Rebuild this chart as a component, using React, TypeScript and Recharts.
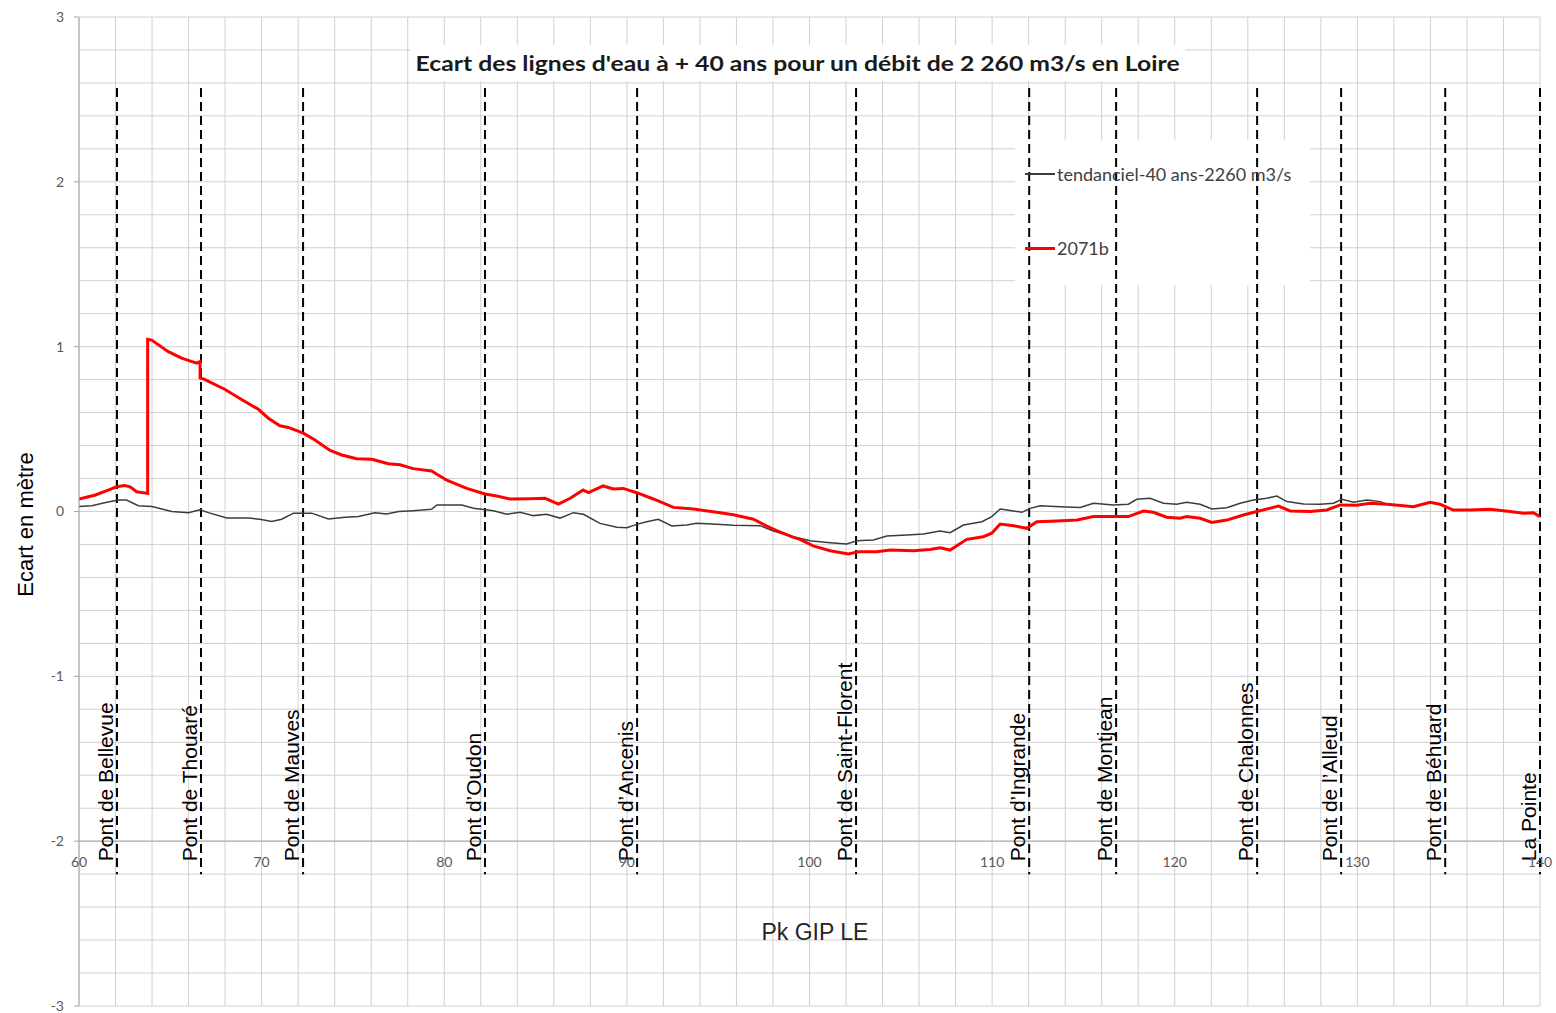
import React from 'react';
import {
  LineChart,
  Line,
  XAxis,
  YAxis,
  CartesianGrid,
  ReferenceLine,
  ReferenceArea,
  ReferenceDot,
  Legend,
} from 'recharts';

// Pk (km) and water-level gap (m)
const blackKm = [
  60.0, 60.7, 61.4, 62.15, 62.6, 63.25, 64.0, 65.08, 65.99, 66.63, 67.08, 68.09, 69.27, 69.9,
  70.55, 71.1, 71.74, 72.74, 73.65, 74.57, 75.3, 76.2, 76.85, 77.5, 78.3, 79.3, 79.6, 80.96,
  81.6, 82.69, 83.42, 84.15, 84.88, 85.6, 86.34, 87.07, 87.62, 88.53, 89.45, 90.0, 90.54, 91.09,
  91.72, 92.46, 93.28, 93.83, 94.92, 95.83, 97.3, 98.02, 99.12, 100.03, 101.13, 102.04, 102.59,
  103.5, 104.23, 105.33, 106.24, 107.15, 107.7, 108.43, 109.44, 109.98, 110.44, 111.08, 111.63,
  112.08, 112.63, 113.72, 114.82, 115.55, 116.64, 117.46, 117.92, 118.65, 119.38, 120.1, 120.66,
  121.39, 122.03, 122.85, 123.58, 124.31, 125.04, 125.59, 126.14, 127.05, 127.96, 128.69, 129.15,
  129.79, 130.52, 131.25, 131.61, 132.52, 133.07, 133.98, 134.52, 135.25, 136.17, 137.26, 138.36,
  139.09, 139.64, 140.0,
];
const blackVal = [
  0.03, 0.035, 0.053, 0.07, 0.07, 0.035, 0.03, 0.0, -0.007, 0.01, -0.007, -0.04, -0.04, -0.047,
  -0.06, -0.047, -0.01, -0.01, -0.045, -0.035, -0.03, -0.007, -0.015, 0.0, 0.005, 0.013, 0.04, 0.04,
  0.02, 0.005, -0.017, -0.005, -0.025, -0.017, -0.04, -0.007, -0.017, -0.072, -0.096, -0.098, -0.078, -0.062,
  -0.047, -0.088, -0.082, -0.072, -0.078, -0.084, -0.086, -0.118, -0.153, -0.177, -0.189, -0.197, -0.177,
  -0.173, -0.149, -0.143, -0.137, -0.118, -0.129, -0.082, -0.062, -0.031, 0.015, 0.005, -0.005,
  0.019, 0.035, 0.029, 0.025, 0.05, 0.04, 0.044, 0.074, 0.08, 0.05, 0.044, 0.056,
  0.044, 0.015, 0.023, 0.05, 0.07, 0.08, 0.094, 0.06, 0.045, 0.044, 0.05, 0.074,
  0.056, 0.07, 0.06, 0.044, 0.035, 0.029, 0.056, 0.044, 0.009, 0.009, 0.013, 0.0,
  -0.011, -0.007, -0.031,
];

const redKm = [
  60.0, 60.9, 61.6, 62.06, 62.5, 62.8, 63.16, 63.76, 63.76, 63.98, 64.89, 65.62, 66.44, 66.63,
  66.63, 66.9, 68.0, 68.9, 69.82, 70.37, 71.0, 71.46, 72.28, 72.92, 73.75, 74.39, 75.2, 76.03,
  76.94, 77.58, 78.3, 79.3, 80.14, 81.23, 82.23, 82.87, 83.6, 84.7, 85.52, 86.25, 86.9, 87.6,
  87.9, 88.7, 89.26, 89.8, 90.54, 91.45, 92.55, 93.64, 94.92, 95.83, 96.93, 97.66, 98.2, 99.12,
  99.48, 100.2, 101.13, 102.13, 102.68, 103.69, 104.41, 105.69, 106.6, 107.15, 107.7, 108.61,
  109.52, 109.98, 110.44, 111.17, 111.9, 112.45, 113.55, 114.65, 115.55, 116.74, 117.46, 118.28,
  118.83, 119.56, 120.29, 120.66, 121.39, 122.03, 122.85, 123.76, 124.49, 125.68, 126.32, 127.42,
  128.33, 129.06, 129.97, 130.7, 131.61, 132.52, 133.07, 133.98, 134.52, 135.25, 136.17, 137.26,
  138.36, 139.09, 139.64, 140.0,
];
const redVal = [
  0.075, 0.1, 0.13, 0.15, 0.157, 0.15, 0.12, 0.11, 1.045, 1.04, 0.97, 0.93, 0.9, 0.91,
  0.81, 0.8, 0.74, 0.68, 0.62, 0.566, 0.52, 0.51, 0.475, 0.434, 0.37, 0.343, 0.32, 0.317,
  0.29, 0.283, 0.26, 0.246, 0.19, 0.14, 0.106, 0.094, 0.076, 0.078, 0.08, 0.045, 0.08, 0.13,
  0.114, 0.155, 0.137, 0.14, 0.114, 0.076, 0.025, 0.015, -0.005, -0.02, -0.047, -0.088, -0.116, -0.157,
  -0.169, -0.209, -0.238, -0.258, -0.244, -0.244, -0.234, -0.238, -0.23, -0.22, -0.234, -0.169,
  -0.153, -0.132, -0.076, -0.086, -0.102, -0.062, -0.058, -0.052, -0.031, -0.031, -0.031, 0.003,
  -0.005, -0.035, -0.041, -0.031, -0.041, -0.066, -0.052, -0.021, 0.0, 0.033, 0.003, 0.0,
  0.009, 0.04, 0.038, 0.05, 0.044, 0.035, 0.029, 0.056, 0.044, 0.009, 0.009, 0.013,
  0.0, -0.011, -0.007, -0.031,
];

const bridgeNames = [
  'Pont de Bellevue',
  'Pont de Thouaré',
  'Pont de Mauves',
  'Pont d’Oudon',
  'Pont d’Ancenis',
  'Pont de Saint-Florent',
  'Pont d’Ingrande',
  'Pont de Montjean',
  'Pont de Chalonnes',
  'Pont de l’Alleud',
  'Pont de Béhuard',
  'La Pointe',
];
const bridgeKm = [62.08, 66.68, 72.27, 82.23, 90.56, 102.55, 112.03, 116.79, 124.51, 129.11, 134.81, 140.0];

const xGridTicks = [
  60, 62, 64, 66, 68, 70, 72, 74, 76, 78, 80, 82, 84, 86, 88, 90, 92, 94, 96, 98, 100,
  102, 104, 106, 108, 110, 112, 114, 116, 118, 120, 122, 124, 126, 128, 130, 132, 134, 136, 138, 140,
];
const xLabelTicks = [60, 70, 80, 90, 100, 110, 120, 130, 140];
const yGridTicks = [
  -3, -2.8, -2.6, -2.4, -2.2, -2, -1.8, -1.6, -1.4, -1.2, -1, -0.8, -0.6, -0.4, -0.2, 0,
  0.2, 0.4, 0.6, 0.8, 1, 1.2, 1.4, 1.6, 1.8, 2, 2.2, 2.4, 2.6, 2.8, 3,
];

const seriesNames = ['tendanciel-40 ans-2260 m3/s', '2071b'];
const seriesColors = ['#3c3c3c', '#ff0000'];
const seriesWidths = [1.5, 3];

const TITLE = "Ecart des lignes d'eau à + 40 ans pour un débit de 2 260 m3/s en Loire";

const blackData = blackKm.map((km, i) => ({ km, v: blackVal[i] }));
const redData = redKm.map((km, i) => ({ km, v: redVal[i] }));

const ARIAL = "'Liberation Sans', Arial, sans-serif";
const CALIBRI = "Lato, 'Open Sans', sans-serif";

function YTick(props: any) {
  const { x, y, payload } = props;
  if (!Number.isInteger(payload.value)) return null;
  return (
    <g>
      <line x1={x + 10} x2={x + 15} y1={y} y2={y} stroke="#a6a6a6" />
      <text x={x} y={y} dy="0.35em" textAnchor="end" fill="#595959" fontSize={14} fontFamily={CALIBRI}>
        {payload.value}
      </text>
    </g>
  );
}

function YTitle(props: any) {
  const { viewBox } = props;
  if (!viewBox) return null;
  const x = viewBox.x + 33;
  const y = viewBox.y + viewBox.height / 2 + 13;
  return (
    <text x={x} y={y} transform={`rotate(-90 ${x} ${y})`} textAnchor="middle" fontSize={22} fontFamily={ARIAL} fill="#000">
      Ecart en mètre
    </text>
  );
}

function ChartTitle(props: any) {
  const { viewBox } = props;
  if (!viewBox) return null;
  return (
    <text
      x={viewBox.x + viewBox.width / 2}
      y={viewBox.y + viewBox.height / 2 + 8}
      textAnchor="middle"
      fontSize={21}
      fontWeight="bold"
      fontFamily={CALIBRI}
      fill="#1a1a1a"
      textLength={764}
      lengthAdjust="spacingAndGlyphs"
    >
      {TITLE}
    </text>
  );
}

function BridgeLabel(props: any) {
  const { viewBox, text } = props;
  if (!viewBox) return null;
  const x = viewBox.x - 4;
  const y = viewBox.y + viewBox.height - 13;
  return (
    <text x={x} y={y} transform={`rotate(-90 ${x} ${y})`} fontSize={21} fontFamily={ARIAL} fill="#000">
      {text}
    </text>
  );
}

function XTickLabel(props: any) {
  const { viewBox, text } = props;
  if (!viewBox) return null;
  return (
    <text x={viewBox.x} y={viewBox.y + 21} dy="0.35em" textAnchor="middle" fill="#595959" fontSize={14} fontFamily={CALIBRI}>
      {text}
    </text>
  );
}

function XTitle(props: any) {
  const { viewBox } = props;
  if (!viewBox) return null;
  return (
    <text x={viewBox.x} y={viewBox.y} textAnchor="middle" fontSize={23} fontFamily={ARIAL} fill="#262626">
      Pk GIP LE
    </text>
  );
}

const legendRowTop = [24, 98];

function LegendBox(props: any) {
  const payload = props.payload || [];
  return (
    <div style={{ position: 'relative', width: 295, height: 145 }}>
      {payload.map((entry: any) => {
        const i = Math.max(0, seriesNames.indexOf(entry.value));
        return (
          <div
            key={entry.value}
            style={{ position: 'absolute', left: 10, top: legendRowTop[i], height: 20, display: 'flex', alignItems: 'center' }}
          >
            <span style={{ display: 'inline-block', width: 30, height: seriesWidths[i], background: seriesColors[i] }} />
            <span style={{ marginLeft: 2, fontFamily: CALIBRI, fontSize: 18, color: '#404040', whiteSpace: 'nowrap' }}>
              {entry.value}
            </span>
          </div>
        );
      })}
    </div>
  );
}

export default function App() {
  return (
    <div style={{ position: 'absolute', left: 0, top: 0, width: 1556, height: 1013, background: '#fff' }}>
      <LineChart width={1556} height={1013} margin={{ top: 17, right: 16, bottom: 7, left: 0 }}>
        <CartesianGrid stroke="#d0d0d0" verticalValues={xGridTicks} horizontalValues={yGridTicks} />
        <XAxis type="number" dataKey="km" domain={[60, 140]} ticks={xGridTicks} interval={0} hide allowDataOverflow />
        <YAxis
          type="number"
          domain={[-3, 3]}
          ticks={yGridTicks}
          interval={0}
          width={79}
          tickSize={5}
          tickMargin={10}
          tickLine={false}
          axisLine={{ stroke: '#a6a6a6' }}
          tick={<YTick />}
          label={<YTitle />}
          allowDataOverflow
        />
        <ReferenceArea x1={78.13} x2={120.57} y1={2.61} y2={2.83} fill="#fff" fillOpacity={1} stroke="none" label={<ChartTitle />} />
        <ReferenceArea x1={111.26} x2={127.41} y1={1.374} y2={2.254} fill="#fff" fillOpacity={1} stroke="none" />
        <ReferenceLine y={-2} stroke="#a6a6a6" />
        {bridgeKm.map((km, i) => (
          <ReferenceLine
            key={bridgeNames[i]}
            segment={[{ x: km, y: 2.57 }, { x: km, y: -2.2 }]}
            stroke="#000"
            strokeWidth={2}
            strokeDasharray="9 5"
            label={<BridgeLabel text={bridgeNames[i]} />}
          />
        ))}
        {xLabelTicks.map((v) => (
          <ReferenceDot key={v} x={v} y={-2} r={0} stroke="none" fill="none" label={<XTickLabel text={String(v)} />} />
        ))}
        <ReferenceDot x={100.3} y={-2.6} r={0} stroke="none" fill="none" label={<XTitle />} />
        <Line
          data={blackData}
          dataKey="v"
          name={seriesNames[0]}
          type="linear"
          stroke={seriesColors[0]}
          strokeWidth={seriesWidths[0]}
          dot={false}
          activeDot={false}
          isAnimationActive={false}
        />
        <Line
          data={redData}
          dataKey="v"
          name={seriesNames[1]}
          type="linear"
          stroke={seriesColors[1]}
          strokeWidth={seriesWidths[1]}
          dot={false}
          activeDot={false}
          isAnimationActive={false}
        />
        <Legend
          layout="horizontal"
          verticalAlign="middle"
          align="center"
          itemSorter={null as any}
          content={<LegendBox />}
          wrapperStyle={{ position: 'absolute', left: 1015, top: 140, width: 295, height: 145 }}
        />
      </LineChart>
    </div>
  );
}
